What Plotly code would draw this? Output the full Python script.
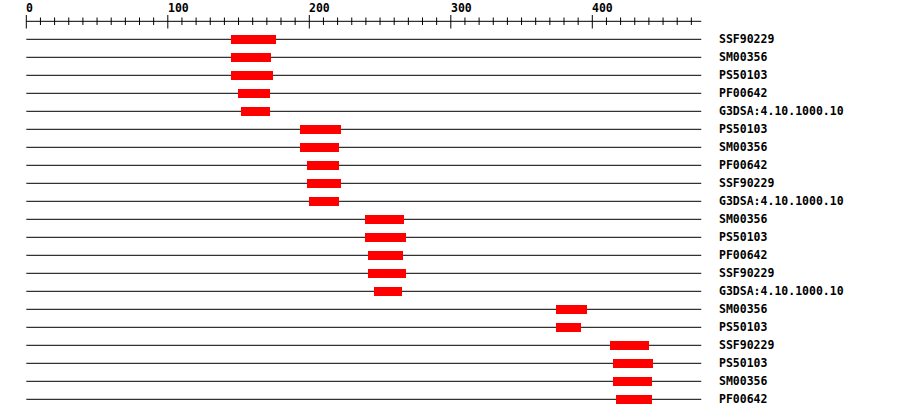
import plotly.graph_objects as go

seq_len = 477
labels = ["SSF90229", "SM00356", "PS50103", "PF00642", "G3DSA:4.10.1000.10",
          "PS50103", "SM00356", "PF00642", "SSF90229", "G3DSA:4.10.1000.10",
          "SM00356", "PS50103", "PF00642", "SSF90229", "G3DSA:4.10.1000.10",
          "SM00356", "PS50103",
          "SSF90229", "PS50103", "SM00356", "PF00642"]
starts = [145, 145, 145, 149.5, 151.5,
          193.5, 193.5, 198.5, 198.5, 200,
          239.5, 239.5, 241.5, 241.5, 245.5,
          374.5, 374.5,
          412.5, 414.5, 414.5, 416.5]
ends = [176.5, 173, 174.5, 172, 172,
        222.5, 221, 221, 222.5, 221,
        267, 268.5, 266, 268.5, 265.5,
        396, 392,
        440, 443, 442, 442]
major_ticks = [0, 100, 200, 300, 400]
minor_ticks = list(range(0, 471, 10))

rows = list(range(len(labels)))
lengths = [e - s for s, e in zip(starts, ends)]

W, H = 900, 418
px0 = 26.3          # pixel of position 0
ppu = 1.415         # pixels per unit
row0 = 39.3         # pixel of first row
rowh = 18.0

def ypx(p):
    return (p - row0) / rowh

fig = go.Figure()
fig.add_trace(go.Bar(
    orientation="h", base=starts, x=lengths, y=rows, width=0.5,
    marker=dict(color="#FF0000", line=dict(width=0)), hoverinfo="skip",
))

shapes = []
for r in rows:
    shapes.append(dict(type="line", x0=0, x1=seq_len, y0=r, y1=r,
                       xref="x", yref="y", layer="below",
                       line=dict(color="black", width=1)))
# ruler
shapes.append(dict(type="line", x0=0, x1=seq_len, y0=ypx(21.3), y1=ypx(21.3),
                   xref="x", yref="y", line=dict(color="black", width=1)))
for t in minor_ticks:
    if t in major_ticks:
        y0, y1 = ypx(15), ypx(28.5)
    else:
        y0, y1 = ypx(17.5), ypx(25)
    shapes.append(dict(type="line", x0=t, x1=t, y0=y0, y1=y1,
                       xref="x", yref="y", line=dict(color="black", width=1)))

annotations = []
for t in major_ticks:
    annotations.append(dict(x=t, y=ypx(8), xref="x", yref="y", text=f"<b>{t}</b>",
                            showarrow=False, xanchor="left", yanchor="middle", xshift=-2,
                            font=dict(family="DejaVu Sans Mono", size=11.5, color="black")))
for r, lab in zip(rows, labels):
    annotations.append(dict(x=seq_len, y=r, xref="x", yref="y", text=f"<b>{lab}</b>",
                            showarrow=False, xanchor="left", yanchor="middle", xshift=16,
                            font=dict(family="DejaVu Sans Mono", size=11.5, color="black")))

xa = -px0 / ppu
xb = xa + W / ppu
fig.update_layout(
    width=W, height=H, autosize=False,
    margin=dict(l=0, r=0, t=0, b=0),
    paper_bgcolor="white", plot_bgcolor="white",
    showlegend=False, bargap=0, hovermode=False,
    xaxis=dict(range=[xa, xb], visible=False, fixedrange=True),
    yaxis=dict(range=[(H - row0) / rowh, -row0 / rowh], visible=False, fixedrange=True),
    shapes=shapes, annotations=annotations,
)
fig.write_html("out.html", config={"displayModeBar": False, "staticPlot": True},
               post_script="document.body.style.margin='0';document.body.style.overflow='hidden';")
